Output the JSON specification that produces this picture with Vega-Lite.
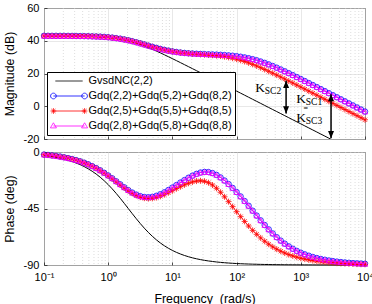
{
  "$schema": "https://vega.github.io/schema/vega-lite/v6.json",
  "background": "white",
  "padding": {"left": 2, "top": 1, "right": 0, "bottom": 0},
  "config": {
    "view": {"stroke": "#1a1a1a", "strokeWidth": 1},
    "font": "Liberation Sans",
    "axis": {
      "labelFont": "Liberation Sans", "labelFontSize": 11, "labelColor": "#000000",
      "titleFont": "Liberation Sans", "titleFontSize": 12.4, "titleFontWeight": "normal", "titleColor": "#000000",
      "gridColor": "#dedede", "gridWidth": 0.7, "domain": false,
      "ticks": true, "tickSize": -3, "tickColor": "#262626", "tickWidth": 0.8,
      "labelPadding": 8, "labelOverlap": false
    },
    "axisY": {"labelOverlap": false}
  },
  "datasets": {
    "minor": [
      {"w":0.2},{"w":0.3},{"w":0.4},{"w":0.5},{"w":0.6},{"w":0.7},{"w":0.8},{"w":0.9},
      {"w":2},{"w":3},{"w":4},{"w":5},{"w":6},{"w":7},{"w":8},{"w":9},
      {"w":20},{"w":30},{"w":40},{"w":50},{"w":60},{"w":70},{"w":80},{"w":90},
      {"w":200},{"w":300},{"w":400},{"w":500},{"w":600},{"w":700},{"w":800},{"w":900},
      {"w":2000},{"w":3000},{"w":4000},{"w":5000},{"w":6000},{"w":7000},{"w":8000},{"w":9000}
    ],
    "keys": [
      {"series":"GvsdNC(2,2)"},
      {"series":"Gdq(2,2)+Gdq(5,2)+Gdq(8,2)"},
      {"series":"Gdq(2,5)+Gdq(5,5)+Gdq(8,5)"},
      {"series":"Gdq(2,8)+Gdq(5,8)+Gdq(8,8)"}
    ],
    "ksc": [
      {"w":196,"mag":8.9,"sub":"SC2"},
      {"w":853,"mag":2.2,"sub":"SC1"},
      {"w":853,"mag":-9.4,"sub":"SC3"}
    ],
    "eq": [{"w":1194,"mag":-1.5}],
    "arrows": [
      {"w":590,"mag":15.5,"mag2":-4.4},
      {"w":2958,"mag":7.4,"mag2":-19.5}
    ],
    "gvsd": [
      {"w":0.1,"mag":42.99,"ph":-2.79},{"w":0.11548,"mag":42.99,"ph":-3.22},{"w":0.13335,"mag":42.98,"ph":-3.72},
      {"w":0.15399,"mag":42.98,"ph":-4.29},{"w":0.17783,"mag":42.97,"ph":-4.95},{"w":0.20535,"mag":42.96,"ph":-5.71},
      {"w":0.23714,"mag":42.94,"ph":-6.59},{"w":0.27384,"mag":42.92,"ph":-7.6},{"w":0.31623,"mag":42.9,"ph":-8.75},
      {"w":0.36517,"mag":42.87,"ph":-10.08},{"w":0.4217,"mag":42.82,"ph":-11.61},{"w":0.48697,"mag":42.76,"ph":-13.34},
      {"w":0.56234,"mag":42.69,"ph":-15.31},{"w":0.64938,"mag":42.59,"ph":-17.55},{"w":0.74989,"mag":42.46,"ph":-20.06},
      {"w":0.86596,"mag":42.29,"ph":-22.87},{"w":1,"mag":42.08,"ph":-25.97},{"w":1.1548,"mag":41.81,"ph":-29.35},
      {"w":1.3335,"mag":41.47,"ph":-33},{"w":1.5399,"mag":41.06,"ph":-36.87},{"w":1.7783,"mag":40.57,"ph":-40.89},
      {"w":2.0535,"mag":39.99,"ph":-45},{"w":2.3714,"mag":39.32,"ph":-49.11},{"w":2.7384,"mag":38.56,"ph":-53.13},
      {"w":3.1623,"mag":37.72,"ph":-57},{"w":3.6517,"mag":36.81,"ph":-60.65},{"w":4.217,"mag":35.83,"ph":-64.03},
      {"w":4.8697,"mag":34.79,"ph":-67.13},{"w":5.6234,"mag":33.71,"ph":-69.94},{"w":6.4938,"mag":32.59,"ph":-72.45},
      {"w":7.4989,"mag":31.44,"ph":-74.69},{"w":8.6596,"mag":30.26,"ph":-76.66},{"w":10,"mag":29.07,"ph":-78.4},
      {"w":11.548,"mag":27.87,"ph":-79.92},{"w":13.335,"mag":26.65,"ph":-81.25},{"w":15.399,"mag":25.42,"ph":-82.4},
      {"w":17.783,"mag":24.19,"ph":-83.41},{"w":20.535,"mag":22.96,"ph":-84.29},{"w":23.714,"mag":21.72,"ph":-85.05},
      {"w":27.384,"mag":20.48,"ph":-85.71},{"w":31.623,"mag":19.23,"ph":-86.28},{"w":36.517,"mag":17.99,"ph":-86.78},
      {"w":42.17,"mag":16.74,"ph":-87.21},{"w":48.697,"mag":15.49,"ph":-87.59},{"w":56.234,"mag":14.25,"ph":-87.91},
      {"w":64.938,"mag":13,"ph":-88.19},{"w":74.989,"mag":11.75,"ph":-88.43},{"w":86.596,"mag":10.5,"ph":-88.64},
      {"w":100,"mag":9.25,"ph":-88.82},{"w":115.48,"mag":8,"ph":-88.98},{"w":133.35,"mag":6.75,"ph":-89.12},
      {"w":153.99,"mag":5.5,"ph":-89.24},{"w":177.83,"mag":4.25,"ph":-89.34},{"w":205.35,"mag":3,"ph":-89.43},
      {"w":237.14,"mag":1.75,"ph":-89.5},{"w":273.84,"mag":0.5,"ph":-89.57},{"w":316.23,"mag":-0.75,"ph":-89.63},
      {"w":365.17,"mag":-2,"ph":-89.68},{"w":421.7,"mag":-3.25,"ph":-89.72},{"w":486.97,"mag":-4.5,"ph":-89.76},
      {"w":562.34,"mag":-5.75,"ph":-89.79},{"w":649.38,"mag":-7,"ph":-89.82},{"w":749.89,"mag":-8.25,"ph":-89.84},
      {"w":865.96,"mag":-9.5,"ph":-89.86},{"w":1000,"mag":-10.75,"ph":-89.88},{"w":1154.8,"mag":-12,"ph":-89.9},
      {"w":1333.5,"mag":-13.25,"ph":-89.91},{"w":1539.9,"mag":-14.5,"ph":-89.92},{"w":1778.3,"mag":-15.75,"ph":-89.93},
      {"w":2053.5,"mag":-17,"ph":-89.94},{"w":2371.4,"mag":-18.25,"ph":-89.95},{"w":2738.4,"mag":-19.5,"ph":-89.96},
      {"w":3162.3,"mag":-20.75,"ph":-89.96},{"w":3651.7,"mag":-22,"ph":-89.97},{"w":4217,"mag":-23.25,"ph":-89.97},
      {"w":4869.7,"mag":-24.5,"ph":-89.98},{"w":5623.4,"mag":-25.75,"ph":-89.98},{"w":6493.8,"mag":-27,"ph":-89.98},
      {"w":7498.9,"mag":-28.25,"ph":-89.99},{"w":8659.6,"mag":-29.5,"ph":-89.99},{"w":10000,"mag":-30.75,"ph":-89.99}
    ],
    "gdq2": [
      {"w":0.1,"mag":42.99,"ph":-2.06},{"w":0.11548,"mag":42.99,"ph":-2.37},{"w":0.13335,"mag":42.98,"ph":-2.74},
      {"w":0.15399,"mag":42.98,"ph":-3.16},{"w":0.17783,"mag":42.97,"ph":-3.65},{"w":0.20535,"mag":42.96,"ph":-4.21},
      {"w":0.23714,"mag":42.95,"ph":-4.85},{"w":0.27384,"mag":42.93,"ph":-5.59},{"w":0.31623,"mag":42.9,"ph":-6.44},
      {"w":0.36517,"mag":42.87,"ph":-7.41},{"w":0.4217,"mag":42.83,"ph":-8.52},{"w":0.48697,"mag":42.78,"ph":-9.78},
      {"w":0.56234,"mag":42.71,"ph":-11.21},{"w":0.64938,"mag":42.62,"ph":-12.81},{"w":0.74989,"mag":42.5,"ph":-14.59},
      {"w":0.86596,"mag":42.35,"ph":-16.56},{"w":1,"mag":42.15,"ph":-18.7},{"w":1.1548,"mag":41.91,"ph":-20.97},
      {"w":1.3335,"mag":41.6,"ph":-23.35},{"w":1.5399,"mag":41.25,"ph":-25.76},{"w":1.7783,"mag":40.81,"ph":-28.12},
      {"w":2.0535,"mag":40.31,"ph":-30.35},{"w":2.3714,"mag":39.73,"ph":-32.32},{"w":2.7384,"mag":39.1,"ph":-33.95},
      {"w":3.1623,"mag":38.43,"ph":-35.15},{"w":3.6517,"mag":37.73,"ph":-35.86},{"w":4.217,"mag":37.02,"ph":-36.04},
      {"w":4.8697,"mag":36.32,"ph":-35.7},{"w":5.6234,"mag":35.64,"ph":-34.88},{"w":6.4938,"mag":35.01,"ph":-33.65},
      {"w":7.4989,"mag":34.44,"ph":-32.11},{"w":8.6596,"mag":33.93,"ph":-30.27},{"w":10,"mag":33.5,"ph":-28.33},
      {"w":11.548,"mag":33.13,"ph":-26.33},{"w":13.335,"mag":32.82,"ph":-24.33},{"w":15.399,"mag":32.56,"ph":-22.37},
      {"w":17.783,"mag":32.36,"ph":-20.52},{"w":20.535,"mag":32.19,"ph":-18.83},{"w":23.714,"mag":32.05,"ph":-17.41},
      {"w":27.384,"mag":31.94,"ph":-16.36},{"w":31.623,"mag":31.83,"ph":-15.86},{"w":36.517,"mag":31.73,"ph":-15.99},
      {"w":42.17,"mag":31.64,"ph":-16.79},{"w":48.697,"mag":31.53,"ph":-18.24},{"w":56.234,"mag":31.41,"ph":-20.27},
      {"w":64.938,"mag":31.26,"ph":-22.73},{"w":74.989,"mag":31.08,"ph":-25.54},{"w":86.596,"mag":30.86,"ph":-28.61},
      {"w":100,"mag":30.58,"ph":-31.9},{"w":115.48,"mag":30.23,"ph":-35.39},{"w":133.35,"mag":29.83,"ph":-39.05},
      {"w":153.99,"mag":29.33,"ph":-42.85},{"w":177.83,"mag":28.75,"ph":-46.75},{"w":205.35,"mag":28.08,"ph":-50.63},
      {"w":237.14,"mag":27.32,"ph":-54.44},{"w":273.84,"mag":26.48,"ph":-58.14},{"w":316.23,"mag":25.56,"ph":-61.64},
      {"w":365.17,"mag":24.58,"ph":-64.89},{"w":421.7,"mag":23.54,"ph":-67.87},{"w":486.97,"mag":22.46,"ph":-70.58},
      {"w":562.34,"mag":21.34,"ph":-73},{"w":649.38,"mag":20.19,"ph":-75.17},{"w":749.89,"mag":19.01,"ph":-77.07},
      {"w":865.96,"mag":17.82,"ph":-78.76},{"w":1000,"mag":16.62,"ph":-80.23},{"w":1154.8,"mag":15.4,"ph":-81.52},
      {"w":1333.5,"mag":14.17,"ph":-82.63},{"w":1539.9,"mag":12.94,"ph":-83.61},{"w":1778.3,"mag":11.71,"ph":-84.46},
      {"w":2053.5,"mag":10.47,"ph":-85.2},{"w":2371.4,"mag":9.23,"ph":-85.84},{"w":2738.4,"mag":7.98,"ph":-86.4},
      {"w":3162.3,"mag":6.74,"ph":-86.88},{"w":3651.7,"mag":5.49,"ph":-87.3},{"w":4217,"mag":4.24,"ph":-87.66},
      {"w":4869.7,"mag":3,"ph":-87.98},{"w":5623.4,"mag":1.75,"ph":-88.25},{"w":6493.8,"mag":0.5,"ph":-88.48},
      {"w":7498.9,"mag":-0.75,"ph":-88.69},{"w":8659.6,"mag":-2,"ph":-88.86},{"w":10000,"mag":-3.25,"ph":-89.01}
    ],
    "gdq5": [
      {"w":0.1,"mag":42.99,"ph":-2.09},{"w":0.11548,"mag":42.99,"ph":-2.4},{"w":0.13335,"mag":42.98,"ph":-2.77},
      {"w":0.15399,"mag":42.98,"ph":-3.2},{"w":0.17783,"mag":42.97,"ph":-3.7},{"w":0.20535,"mag":42.96,"ph":-4.26},
      {"w":0.23714,"mag":42.95,"ph":-4.91},{"w":0.27384,"mag":42.93,"ph":-5.66},{"w":0.31623,"mag":42.9,"ph":-6.52},
      {"w":0.36517,"mag":42.87,"ph":-7.5},{"w":0.4217,"mag":42.83,"ph":-8.63},{"w":0.48697,"mag":42.78,"ph":-9.9},
      {"w":0.56234,"mag":42.71,"ph":-11.35},{"w":0.64938,"mag":42.62,"ph":-12.97},{"w":0.74989,"mag":42.5,"ph":-14.78},
      {"w":0.86596,"mag":42.35,"ph":-16.78},{"w":1,"mag":42.15,"ph":-18.95},{"w":1.1548,"mag":41.91,"ph":-21.26},
      {"w":1.3335,"mag":41.6,"ph":-23.68},{"w":1.5399,"mag":41.25,"ph":-26.15},{"w":1.7783,"mag":40.81,"ph":-28.57},
      {"w":2.0535,"mag":40.31,"ph":-30.87},{"w":2.3714,"mag":39.73,"ph":-32.92},{"w":2.7384,"mag":39.1,"ph":-34.64},
      {"w":3.1623,"mag":38.43,"ph":-35.94},{"w":3.6517,"mag":37.73,"ph":-36.78},{"w":4.217,"mag":37.01,"ph":-37.1},
      {"w":4.8697,"mag":36.31,"ph":-36.92},{"w":5.6234,"mag":35.63,"ph":-36.29},{"w":6.4938,"mag":35,"ph":-35.27},
      {"w":7.4989,"mag":34.42,"ph":-33.98},{"w":8.6596,"mag":33.91,"ph":-32.43},{"w":10,"mag":33.47,"ph":-30.82},
      {"w":11.548,"mag":33.09,"ph":-29.2},{"w":13.335,"mag":32.77,"ph":-27.64},{"w":15.399,"mag":32.49,"ph":-26.18},
      {"w":17.783,"mag":32.27,"ph":-24.89},{"w":20.535,"mag":32.07,"ph":-23.85},{"w":23.714,"mag":31.89,"ph":-23.16},
      {"w":27.384,"mag":31.73,"ph":-22.92},{"w":31.623,"mag":31.55,"ph":-23.33},{"w":36.517,"mag":31.37,"ph":-24.45},
      {"w":42.17,"mag":31.17,"ph":-26.32},{"w":48.697,"mag":30.92,"ph":-28.9},{"w":56.234,"mag":30.63,"ph":-32.07},
      {"w":64.938,"mag":30.28,"ph":-35.67},{"w":74.989,"mag":29.85,"ph":-39.54},{"w":86.596,"mag":29.35,"ph":-43.53},
      {"w":100,"mag":28.76,"ph":-47.55},{"w":115.48,"mag":28.08,"ph":-51.5},{"w":133.35,"mag":27.33,"ph":-55.31},
      {"w":153.99,"mag":26.48,"ph":-58.96},{"w":177.83,"mag":25.57,"ph":-62.4},{"w":205.35,"mag":24.59,"ph":-65.55},
      {"w":237.14,"mag":23.55,"ph":-68.44},{"w":273.84,"mag":22.46,"ph":-71.08},{"w":316.23,"mag":21.34,"ph":-73.44},
      {"w":365.17,"mag":20.19,"ph":-75.55},{"w":421.7,"mag":19.01,"ph":-77.4},{"w":486.97,"mag":17.82,"ph":-79.04},
      {"w":562.34,"mag":16.62,"ph":-80.47},{"w":649.38,"mag":15.4,"ph":-81.73},{"w":749.89,"mag":14.17,"ph":-82.81},
      {"w":865.96,"mag":12.94,"ph":-83.77},{"w":1000,"mag":11.71,"ph":-84.6},{"w":1154.8,"mag":10.47,"ph":-85.32},
      {"w":1333.5,"mag":9.22,"ph":-85.94},{"w":1539.9,"mag":7.98,"ph":-86.48},{"w":1778.3,"mag":6.74,"ph":-86.95},
      {"w":2053.5,"mag":5.49,"ph":-87.36},{"w":2371.4,"mag":4.25,"ph":-87.72},{"w":2738.4,"mag":2.99,"ph":-88.03},
      {"w":3162.3,"mag":1.75,"ph":-88.29},{"w":3651.7,"mag":0.5,"ph":-88.52},{"w":4217,"mag":-0.76,"ph":-88.71},
      {"w":4869.7,"mag":-2,"ph":-88.89},{"w":5623.4,"mag":-3.25,"ph":-89.04},{"w":6493.8,"mag":-4.5,"ph":-89.17},
      {"w":7498.9,"mag":-5.75,"ph":-89.29},{"w":8659.6,"mag":-7,"ph":-89.38},{"w":10000,"mag":-8.25,"ph":-89.46}
    ],
    "gdq8": [
      {"w":0.1,"mag":42.99,"ph":-2.06},{"w":0.11548,"mag":42.99,"ph":-2.37},{"w":0.13335,"mag":42.98,"ph":-2.74},
      {"w":0.15399,"mag":42.98,"ph":-3.16},{"w":0.17783,"mag":42.97,"ph":-3.65},{"w":0.20535,"mag":42.96,"ph":-4.21},
      {"w":0.23714,"mag":42.95,"ph":-4.85},{"w":0.27384,"mag":42.93,"ph":-5.59},{"w":0.31623,"mag":42.9,"ph":-6.44},
      {"w":0.36517,"mag":42.87,"ph":-7.41},{"w":0.4217,"mag":42.83,"ph":-8.52},{"w":0.48697,"mag":42.78,"ph":-9.78},
      {"w":0.56234,"mag":42.71,"ph":-11.21},{"w":0.64938,"mag":42.62,"ph":-12.81},{"w":0.74989,"mag":42.5,"ph":-14.59},
      {"w":0.86596,"mag":42.35,"ph":-16.56},{"w":1,"mag":42.15,"ph":-18.7},{"w":1.1548,"mag":41.91,"ph":-20.97},
      {"w":1.3335,"mag":41.6,"ph":-23.35},{"w":1.5399,"mag":41.25,"ph":-25.76},{"w":1.7783,"mag":40.81,"ph":-28.12},
      {"w":2.0535,"mag":40.31,"ph":-30.35},{"w":2.3714,"mag":39.73,"ph":-32.32},{"w":2.7384,"mag":39.1,"ph":-33.95},
      {"w":3.1623,"mag":38.43,"ph":-35.15},{"w":3.6517,"mag":37.73,"ph":-35.86},{"w":4.217,"mag":37.02,"ph":-36.04},
      {"w":4.8697,"mag":36.32,"ph":-35.7},{"w":5.6234,"mag":35.64,"ph":-34.88},{"w":6.4938,"mag":35.01,"ph":-33.65},
      {"w":7.4989,"mag":34.44,"ph":-32.11},{"w":8.6596,"mag":33.93,"ph":-30.27},{"w":10,"mag":33.5,"ph":-28.33},
      {"w":11.548,"mag":33.13,"ph":-26.33},{"w":13.335,"mag":32.82,"ph":-24.33},{"w":15.399,"mag":32.56,"ph":-22.37},
      {"w":17.783,"mag":32.36,"ph":-20.52},{"w":20.535,"mag":32.19,"ph":-18.83},{"w":23.714,"mag":32.05,"ph":-17.41},
      {"w":27.384,"mag":31.94,"ph":-16.36},{"w":31.623,"mag":31.83,"ph":-15.86},{"w":36.517,"mag":31.73,"ph":-15.99},
      {"w":42.17,"mag":31.64,"ph":-16.79},{"w":48.697,"mag":31.53,"ph":-18.24},{"w":56.234,"mag":31.41,"ph":-20.27},
      {"w":64.938,"mag":31.26,"ph":-22.73},{"w":74.989,"mag":31.08,"ph":-25.54},{"w":86.596,"mag":30.86,"ph":-28.61},
      {"w":100,"mag":30.58,"ph":-31.9},{"w":115.48,"mag":30.23,"ph":-35.39},{"w":133.35,"mag":29.83,"ph":-39.05},
      {"w":153.99,"mag":29.33,"ph":-42.85},{"w":177.83,"mag":28.75,"ph":-46.75},{"w":205.35,"mag":28.08,"ph":-50.63},
      {"w":237.14,"mag":27.32,"ph":-54.44},{"w":273.84,"mag":26.48,"ph":-58.14},{"w":316.23,"mag":25.56,"ph":-61.64},
      {"w":365.17,"mag":24.58,"ph":-64.89},{"w":421.7,"mag":23.54,"ph":-67.87},{"w":486.97,"mag":22.46,"ph":-70.58},
      {"w":562.34,"mag":21.34,"ph":-73},{"w":649.38,"mag":20.19,"ph":-75.17},{"w":749.89,"mag":19.01,"ph":-77.07},
      {"w":865.96,"mag":17.82,"ph":-78.76},{"w":1000,"mag":16.62,"ph":-80.23},{"w":1154.8,"mag":15.4,"ph":-81.52},
      {"w":1333.5,"mag":14.17,"ph":-82.63},{"w":1539.9,"mag":12.94,"ph":-83.61},{"w":1778.3,"mag":11.71,"ph":-84.46},
      {"w":2053.5,"mag":10.47,"ph":-85.2},{"w":2371.4,"mag":9.23,"ph":-85.84},{"w":2738.4,"mag":7.98,"ph":-86.4},
      {"w":3162.3,"mag":6.74,"ph":-86.88},{"w":3651.7,"mag":5.49,"ph":-87.3},{"w":4217,"mag":4.24,"ph":-87.66},
      {"w":4869.7,"mag":3,"ph":-87.98},{"w":5623.4,"mag":1.75,"ph":-88.25},{"w":6493.8,"mag":0.5,"ph":-88.48},
      {"w":7498.9,"mag":-0.75,"ph":-88.69},{"w":8659.6,"mag":-2,"ph":-88.86},{"w":10000,"mag":-3.25,"ph":-89.01}
    ]
  },
  "bounds": "flush",
  "spacing": 13,
  "vconcat": [
    {
      "width": 321,
      "height": 131,
      "encoding": {
        "x": {
          "field": "w", "type": "quantitative",
          "scale": {"type": "log", "domain": [0.1, 10000], "nice": false},
          "axis": {"values": [0.1, 1, 10, 100, 1000, 10000], "labels": false, "title": null, "grid": true}
        }
      },
      "layer": [
        {
          "data": {"name": "minor"},
          "mark": {"type": "rule", "color": "#cfcfcf", "strokeWidth": 0.7, "strokeDash": [1, 2]},
          "encoding": {}
        },
        {
          "data": {"name": "gvsd"},
          "transform": [{"filter": "datum.mag >= -21"}],
          "mark": {"type": "line", "color": "#000000", "strokeWidth": 1, "clip": true},
          "encoding": {
            "y": {"field": "mag", "type": "quantitative", "scale": {"domain": [-20, 60], "nice": false},
                  "axis": {"values": [60, 40, 20, 0, -20], "title": "Magnitude (dB)", "labelExpr": "'' + datum.value", "labelOverlap": false, "titlePadding": 7, "grid": true}}
          }
        },
        {
          "data": {"name": "gdq2"},
          "mark": {"type": "line", "color": "#0000ff", "strokeWidth": 0.8,
                   "point": {"shape": "circle", "filled": false, "size": 30, "color": "#0000ff", "strokeWidth": 0.8}},
          "encoding": {"y": {"field": "mag", "type": "quantitative", "scale": {"domain": [-20, 60], "nice": false},
                  "axis": {"values": [60, 40, 20, 0, -20], "title": "Magnitude (dB)", "labelExpr": "'' + datum.value", "labelOverlap": false, "titlePadding": 7, "grid": true}}}
        },
        {
          "data": {"name": "gdq5"},
          "mark": {"type": "line", "color": "#ff0000", "strokeWidth": 0.8,
                   "point": {"shape": "M-1,0L1,0M0,-1L0,1M-0.7,-0.7L0.7,0.7M-0.7,0.7L0.7,-0.7", "filled": false, "size": 36, "color": "#ff0000", "strokeWidth": 0.8}},
          "encoding": {"y": {"field": "mag", "type": "quantitative", "scale": {"domain": [-20, 60], "nice": false},
                  "axis": {"values": [60, 40, 20, 0, -20], "title": "Magnitude (dB)", "labelExpr": "'' + datum.value", "labelOverlap": false, "titlePadding": 7, "grid": true}}}
        },
        {
          "data": {"name": "gdq8"},
          "mark": {"type": "line", "color": "#ff00ff", "strokeWidth": 0.8,
                   "point": {"shape": "triangle-up", "filled": false, "size": 30, "color": "#ff00ff", "strokeWidth": 0.8}},
          "encoding": {"y": {"field": "mag", "type": "quantitative", "scale": {"domain": [-20, 60], "nice": false},
                  "axis": {"values": [60, 40, 20, 0, -20], "title": "Magnitude (dB)", "labelExpr": "'' + datum.value", "labelOverlap": false, "titlePadding": 7, "grid": true}}}
        },
        {
          "data": {"name": "arrows"},
          "mark": {"type": "rule", "color": "#000000", "strokeWidth": 1.5},
          "encoding": {
            "y": {"field": "mag", "type": "quantitative", "scale": {"domain": [-20, 60], "nice": false},
                  "axis": {"values": [60, 40, 20, 0, -20], "title": "Magnitude (dB)", "labelExpr": "'' + datum.value", "labelOverlap": false, "titlePadding": 7, "grid": true}},
            "y2": {"field": "mag2"}
          }
        },
        {
          "data": {"name": "arrows"},
          "mark": {"type": "point", "shape": "M0,0L-1,2.4L1,2.4Z", "filled": true, "size": 36, "color": "#000000", "opacity": 1},
          "encoding": {"y": {"field": "mag", "type": "quantitative", "scale": {"domain": [-20, 60], "nice": false},
                  "axis": {"values": [60, 40, 20, 0, -20], "title": "Magnitude (dB)", "labelExpr": "'' + datum.value", "labelOverlap": false, "titlePadding": 7, "grid": true}}}
        },
        {
          "data": {"name": "arrows"},
          "mark": {"type": "point", "shape": "M0,0L-1,-2.4L1,-2.4Z", "filled": true, "size": 36, "color": "#000000", "opacity": 1},
          "encoding": {"y": {"field": "mag2", "type": "quantitative", "scale": {"domain": [-20, 60], "nice": false},
                  "axis": {"values": [60, 40, 20, 0, -20], "title": "Magnitude (dB)", "labelExpr": "'' + datum.value", "labelOverlap": false, "titlePadding": 7, "grid": true}}}
        },
        {
          "data": {"name": "ksc"},
          "mark": {"type": "text", "text": "K", "font": "Liberation Serif", "fontSize": 13.5, "align": "left", "baseline": "alphabetic", "color": "#000000"},
          "encoding": {"y": {"field": "mag", "type": "quantitative", "scale": {"domain": [-20, 60], "nice": false},
                  "axis": {"values": [60, 40, 20, 0, -20], "title": "Magnitude (dB)", "labelExpr": "'' + datum.value", "labelOverlap": false, "titlePadding": 7, "grid": true}}}
        },
        {
          "data": {"name": "ksc"},
          "mark": {"type": "text", "font": "Liberation Serif", "fontSize": 9.5, "align": "left", "baseline": "alphabetic", "dx": 9.4, "dy": 2.6, "color": "#000000"},
          "encoding": {
            "y": {"field": "mag", "type": "quantitative", "scale": {"domain": [-20, 60], "nice": false},
                  "axis": {"values": [60, 40, 20, 0, -20], "title": "Magnitude (dB)", "labelExpr": "'' + datum.value", "labelOverlap": false, "titlePadding": 7, "grid": true}},
            "text": {"field": "sub"}
          }
        },
        {
          "data": {"name": "eq"},
          "mark": {"type": "text", "text": "=", "font": "Liberation Serif", "fontSize": 8, "align": "center", "baseline": "middle", "color": "#000000"},
          "encoding": {"y": {"field": "mag", "type": "quantitative", "scale": {"domain": [-20, 60], "nice": false},
                  "axis": {"values": [60, 40, 20, 0, -20], "title": "Magnitude (dB)", "labelExpr": "'' + datum.value", "labelOverlap": false, "titlePadding": 7, "grid": true}}}
        },
        {
          "data": {"name": "keys"},
          "mark": {"type": "point", "filled": false, "opacity": 0},
          "encoding": {
            "shape": {
              "field": "series", "type": "nominal",
              "scale": {
                "domain": ["GvsdNC(2,2)", "Gdq(2,2)+Gdq(5,2)+Gdq(8,2)", "Gdq(2,5)+Gdq(5,5)+Gdq(8,5)", "Gdq(2,8)+Gdq(5,8)+Gdq(8,8)"],
                "range": [
                  "M-0.72,0L0.72,0",
                  "M-0.82,0L0.82,0M-0.97,0A0.15,0.15,0,1,1,-0.67,0A0.15,0.15,0,1,1,-0.97,0M0.67,0A0.15,0.15,0,1,1,0.97,0A0.15,0.15,0,1,1,0.67,0",
                  "M-0.82,0L0.82,0M-0.97,0L-0.67,0M-0.82,-0.15L-0.82,0.15M-0.926,-0.106L-0.714,0.106M-0.926,0.106L-0.714,-0.106M0.67,0L0.97,0M0.82,-0.15L0.82,0.15M0.714,-0.106L0.926,0.106M0.714,0.106L0.926,-0.106",
                  "M-0.82,0L0.82,0M-0.82,-0.17L-0.66,0.1L-0.98,0.1ZM0.82,-0.17L0.98,0.1L0.66,0.1Z"
                ]
              },
              "legend": {
                "orient": "none", "legendX": 3, "legendY": 64, "title": null,
                "fillColor": "#ffffff", "strokeColor": "#000000", "padding": 2.5, "cornerRadius": 0,
                "symbolSize": 1444, "symbolStrokeWidth": 0.8, "symbolOpacity": 1, "symbolFillColor": "transparent",
                "clipHeight": 13, "rowPadding": 2, "labelOffset": 0, "symbolOffset": 0,
                "labelFont": "Liberation Sans", "labelFontSize": 11, "labelColor": "#000000", "labelLimit": 300
              }
            },
            "stroke": {
              "field": "series", "type": "nominal",
              "scale": {
                "domain": ["GvsdNC(2,2)", "Gdq(2,2)+Gdq(5,2)+Gdq(8,2)", "Gdq(2,5)+Gdq(5,5)+Gdq(8,5)", "Gdq(2,8)+Gdq(5,8)+Gdq(8,8)"],
                "range": ["#000000", "#0000ff", "#ff0000", "#ff00ff"]
              },
              "legend": {
                "orient": "none", "legendX": 3, "legendY": 64, "title": null,
                "fillColor": "#ffffff", "strokeColor": "#000000", "padding": 2.5, "cornerRadius": 0,
                "symbolSize": 1444, "symbolStrokeWidth": 0.8, "symbolOpacity": 1, "symbolFillColor": "transparent",
                "clipHeight": 13, "rowPadding": 2, "labelOffset": 0, "symbolOffset": 0,
                "labelFont": "Liberation Sans", "labelFontSize": 11, "labelColor": "#000000", "labelLimit": 300
              }
            }
          }
        }
      ]
    },
    {
      "width": 321,
      "height": 113,
      "encoding": {
        "x": {
          "field": "w", "type": "quantitative",
          "scale": {"type": "log", "domain": [0.1, 10000], "nice": false},
          "axis": {
            "values": [0.1, 1, 10, 100, 1000, 10000],
            "labelExpr": "datum.value < 0.5 ? '10⁻¹' : datum.value < 5 ? '10⁰' : datum.value < 50 ? '10¹' : datum.value < 500 ? '10²' : datum.value < 5000 ? '10³' : '10⁴'",
            "labelPadding": 9, "labelFlush": false, "labelOverlap": false,
            "title": "Frequency \u00a0(rad/s)", "titlePadding": 10, "grid": true
          }
        }
      },
      "layer": [
        {
          "data": {"name": "minor"},
          "mark": {"type": "rule", "color": "#cfcfcf", "strokeWidth": 0.7, "strokeDash": [1, 2]},
          "encoding": {}
        },
        {
          "data": {"name": "gvsd"},
          "mark": {"type": "line", "color": "#000000", "strokeWidth": 1},
          "encoding": {
            "y": {"field": "ph", "type": "quantitative", "scale": {"domain": [-90, 0], "nice": false},
                  "axis": {"values": [0, -45, -90], "title": "Phase (deg)", "labelExpr": "'' + datum.value", "labelOverlap": false, "titlePadding": 7, "grid": true}}
          }
        },
        {
          "data": {"name": "gdq2"},
          "mark": {"type": "line", "color": "#0000ff", "strokeWidth": 0.8,
                   "point": {"shape": "circle", "filled": false, "size": 30, "color": "#0000ff", "strokeWidth": 0.8}},
          "encoding": {"y": {"field": "ph", "type": "quantitative", "scale": {"domain": [-90, 0], "nice": false},
                  "axis": {"values": [0, -45, -90], "title": "Phase (deg)", "labelExpr": "'' + datum.value", "labelOverlap": false, "titlePadding": 7, "grid": true}}}
        },
        {
          "data": {"name": "gdq5"},
          "mark": {"type": "line", "color": "#ff0000", "strokeWidth": 0.8,
                   "point": {"shape": "M-1,0L1,0M0,-1L0,1M-0.7,-0.7L0.7,0.7M-0.7,0.7L0.7,-0.7", "filled": false, "size": 36, "color": "#ff0000", "strokeWidth": 0.8}},
          "encoding": {"y": {"field": "ph", "type": "quantitative", "scale": {"domain": [-90, 0], "nice": false},
                  "axis": {"values": [0, -45, -90], "title": "Phase (deg)", "labelExpr": "'' + datum.value", "labelOverlap": false, "titlePadding": 7, "grid": true}}}
        },
        {
          "data": {"name": "gdq8"},
          "mark": {"type": "line", "color": "#ff00ff", "strokeWidth": 0.8,
                   "point": {"shape": "triangle-up", "filled": false, "size": 30, "color": "#ff00ff", "strokeWidth": 0.8}},
          "encoding": {"y": {"field": "ph", "type": "quantitative", "scale": {"domain": [-90, 0], "nice": false},
                  "axis": {"values": [0, -45, -90], "title": "Phase (deg)", "labelExpr": "'' + datum.value", "labelOverlap": false, "titlePadding": 7, "grid": true}}}
        }
      ]
    }
  ]
}
